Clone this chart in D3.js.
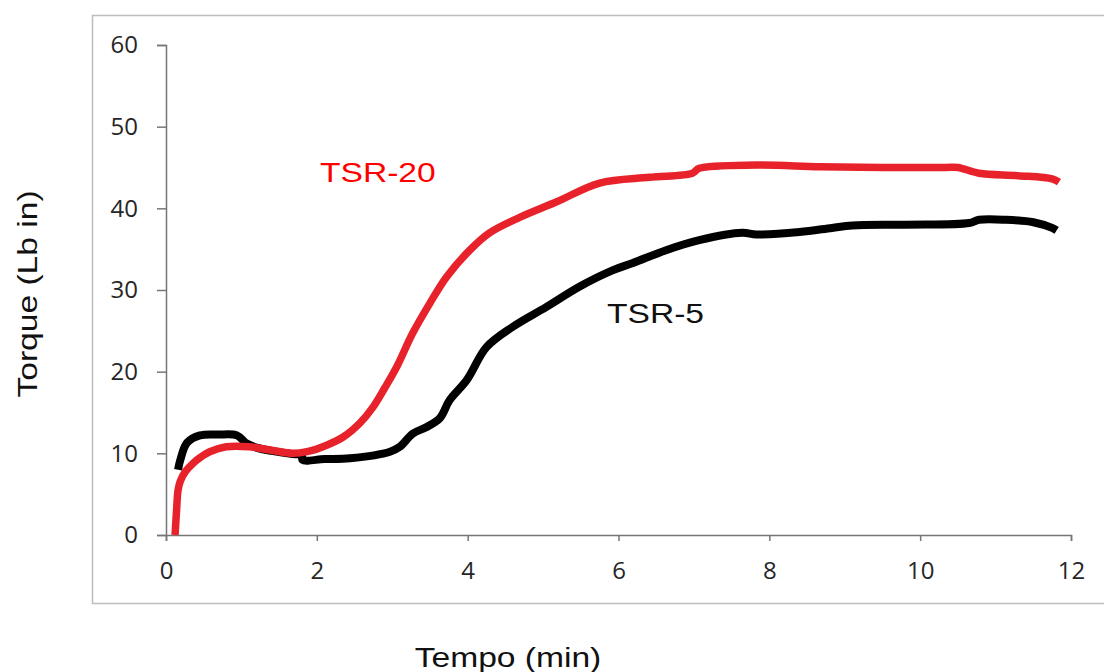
<!DOCTYPE html>
<html lang="en">
<head>
  <meta charset="utf-8">
  <title>Torque vs Tempo</title>
  <script src="https://cdn.jsdelivr.net/npm/d3@7"></script>
  <style>
    body { margin: 0; background: #fff; }
  </style>
</head>
<body>
<script>
// data
var tsr20Time = [0.12, 0.14, 0.16, 0.19, 0.26, 0.36, 0.47, 0.58, 0.8, 1.1, 1.38, 1.68, 1.87, 2.13, 2.35, 2.57, 2.74, 2.9, 3.06, 3.27, 3.5, 3.72, 4.03, 4.29, 4.69, 5.18, 5.75, 6.41, 6.98, 7.07, 7.83, 8.66, 9.5, 10.34, 10.5, 10.78, 11.3, 11.75, 11.84];
var tsr20Torque = [0, 3.0, 5.5, 6.6, 7.8, 8.8, 9.6, 10.2, 10.8, 10.8, 10.4, 10.0, 10.2, 11.0, 12.0, 13.7, 15.6, 18.0, 20.6, 24.7, 28.4, 31.6, 34.9, 37.0, 38.9, 40.8, 43.1, 43.8, 44.3, 44.9, 45.3, 45.1, 45.0, 45.0, 45.0, 44.3, 44.0, 43.6, 43.2];

var tsr5Time = [0.16, 0.19, 0.28, 0.45, 0.7, 0.94, 1.07, 1.2, 1.4, 1.68, 1.8, 1.81, 2.1, 2.44, 2.97, 3.1, 3.27, 3.45, 3.63, 3.76, 3.99, 4.25, 4.6, 5.04, 5.48, 5.92, 6.19, 6.64, 7.07, 7.64, 7.83, 8.4, 8.83, 9.1, 9.8, 10.65, 10.78, 11.14, 11.5, 11.75, 11.81];
var tsr5Torque = [8.0, 9.2, 11.3, 12.2, 12.3, 12.2, 11.2, 10.7, 10.3, 9.9, 9.8, 9.2, 9.3, 9.4, 10.2, 10.8, 12.4, 13.2, 14.3, 16.5, 19.0, 23.0, 25.5, 27.9, 30.4, 32.4, 33.3, 34.9, 36.1, 37.0, 36.8, 37.1, 37.6, 37.9, 38.0, 38.2, 38.6, 38.6, 38.3, 37.6, 37.3];

var xTicks = [0, 2, 4, 6, 8, 10, 12];
var yTicks = [0, 10, 20, 30, 40, 50, 60];

var w = 1104, h = 672;
var labelFont = "'Liberation Sans', Arial, sans-serif";

var svg = d3.select("body").append("svg")
  .attr("width", w)
  .attr("height", h);

// outer frame
svg.append("rect")
  .attr("x", 92.5).attr("y", 15.5)
  .attr("width", 1030).attr("height", 588)
  .attr("fill", "none")
  .attr("stroke", "#bdbdbd")
  .attr("stroke-width", 1.5);

var x = d3.scaleLinear().domain([0, 12]).range([166, 1071]);
var y = d3.scaleLinear().domain([0, 60]).range([535, 45]);

var xAxis = svg.append("g")
  .attr("transform", "translate(0,535)")
  .call(d3.axisBottom(x).tickValues(xTicks).tickSize(6).tickPadding(21));

var yAxis = svg.append("g")
  .attr("transform", "translate(166,0)")
  .call(d3.axisLeft(y).tickValues(yTicks).tickSize(9).tickPadding(19));

[xAxis, yAxis].forEach(function (g) {
  g.attr("font-size", null).attr("font-family", null);
  g.select(".domain").attr("stroke", "#767676").attr("stroke-width", 1.5);
  g.selectAll(".tick line").attr("stroke", "#767676").attr("stroke-width", 1.5);
  g.selectAll(".tick text")
    .attr("fill", "#262626")
    .attr("font-family", "'Open Sans', 'Noto Sans', sans-serif")
    .attr("font-size", 24);
});

var line = d3.line()
  .x(function (d) { return x(d[0]); })
  .y(function (d) { return y(d[1]); })
  .curve(d3.curveCatmullRom.alpha(0.5));

var black = tsr5Time.map(function (t, i) { return [t, tsr5Torque[i]]; });
var red = tsr20Time.map(function (t, i) { return [t, tsr20Torque[i]]; });

svg.append("path")
  .datum(black)
  .attr("d", line)
  .attr("fill", "none")
  .attr("stroke", "#000")
  .attr("stroke-width", 8)
  .attr("stroke-linejoin", "round");

svg.append("path")
  .datum(red)
  .attr("d", line)
  .attr("fill", "none")
  .attr("stroke", "#e8222a")
  .attr("stroke-width", 7.5)
  .attr("stroke-linejoin", "round");

// texts in the picture are a little stretched sideways
function label(tx, ty, rot, txt, color, anchor) {
  svg.append("text")
    .attr("transform", "translate(" + tx + "," + ty + ")" + (rot ? " rotate(" + rot + ")" : "") + " scale(1.2,1)")
    .attr("text-anchor", anchor)
    .attr("fill", color)
    .style("font-family", labelFont)
    .style("font-size", "28px")
    .text(txt);
}

label(320, 182, 0, "TSR-20", "#ff0000", "start");
label(607, 323, 0, "TSR-5", "#111", "start");
label(37, 294, -90, "Torque (Lb in)", "#111", "middle");
label(508, 667, 0, "Tempo (min)", "#111", "middle");
</script>
</body>
</html>
